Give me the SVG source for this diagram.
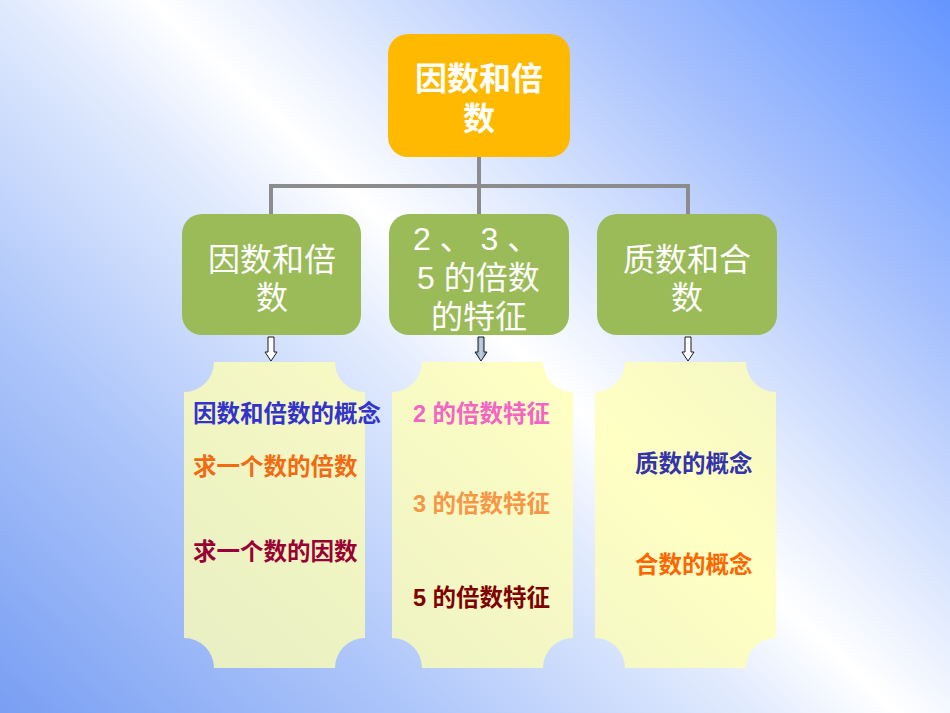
<svg xmlns="http://www.w3.org/2000/svg" width="950" height="713" viewBox="0 0 950 713">
<defs>
<linearGradient id="bg" gradientUnits="userSpaceOnUse" x1="88" y1="792" x2="893" y2="-49">
<stop offset="0" stop-color="#7A9FF3"/>
<stop offset="0.25" stop-color="#AFC7FA"/>
<stop offset="0.45" stop-color="#E3ECFE"/>
<stop offset="0.53" stop-color="#FFFFFF"/>
<stop offset="0.62" stop-color="#E2EBFE"/>
<stop offset="0.8" stop-color="#A6C0FD"/>
<stop offset="1" stop-color="#6596FF"/>
</linearGradient>
<linearGradient id="arrowFill" x1="0" y1="0" x2="1" y2="0">
<stop offset="0" stop-color="#6E86A8"/>
<stop offset="0.5" stop-color="#C4D2E6"/>
<stop offset="1" stop-color="#6E86A8"/>
</linearGradient>
</defs>
<style>
.green{fill:#9BBB59;}
.panel{fill:#FFFFB4;fill-opacity:0.78;}
.conn{stroke:#8C8C8C;stroke-width:4;fill:none;}
.arrow{fill:#FFFFFF;stroke:#1A1A1A;stroke-width:1;}
.big{font-family:"Liberation Sans","Noto Sans CJK SC",sans-serif;font-size:32px;fill:#FFFFFF;}
.small{font-family:"Liberation Sans","Noto Sans CJK SC",sans-serif;font-size:23.5px;font-weight:bold;}
</style>
<rect x="0" y="0" width="950" height="713" fill="url(#bg)"/>

<g id="connectors">
<path class="conn" d="M479 157 V186 M271 186 H688 M271 184 V214 M479 186 V214 M688 184 V214"/>
<polygon class="arrow" points="268,337 274,337 274,352 277,352 271,361 265,352 268,352"/>
<polygon class="arrow" style="fill:url(#arrowFill)" points="478,337 484,337 484,352 487,352 481,361 475,352 478,352"/>
<polygon class="arrow" points="685,337 691,337 691,352 694,352 688,361 682,352 685,352"/>
</g>

<g id="root">
<rect x="388" y="34" width="182" height="123" rx="20" fill="#FFBA00"/>
<text class="big" font-weight="bold" text-anchor="middle" x="479" y="90">因数和倍</text>
<text class="big" font-weight="bold" text-anchor="middle" x="479" y="130">数</text>
</g>

<g id="node-yinshu">
<rect class="green" x="182" y="214" width="179" height="121" rx="20"/>
<text class="big" text-anchor="middle" x="272" y="271">因数和倍</text>
<text class="big" text-anchor="middle" x="272" y="309">数</text>
</g>

<g id="node-tezheng">
<rect class="green" x="389" y="214" width="180" height="121" rx="20"/>
<text class="big" x="413" y="250">2 、 3 、</text>
<text class="big" x="417" y="289">5 的倍数</text>
<text class="big" x="431" y="328">的特征</text>
</g>

<g id="node-zhishu">
<rect class="green" x="597" y="214" width="180" height="121" rx="20"/>
<text class="big" text-anchor="middle" x="687" y="271">质数和合</text>
<text class="big" text-anchor="middle" x="687" y="309">数</text>
</g>

<g id="panel-1">
<path class="panel" d="M214 362 H335 A30 30 0 0 0 365 392 V638 A30 30 0 0 0 335 668 H214 A30 30 0 0 0 184 638 V392 A30 30 0 0 0 214 362 Z"/>
<text class="small" x="193" y="422" fill="#3333CC">因数和倍数的概念</text>
<text class="small" x="193" y="475" fill="#F26B12">求一个数的倍数</text>
<text class="small" x="193" y="560" fill="#990033">求一个数的因数</text>
</g>

<g id="panel-2">
<path class="panel" d="M422 362 H543 A30 30 0 0 0 573 392 V638 A30 30 0 0 0 543 668 H422 A30 30 0 0 0 392 638 V392 A30 30 0 0 0 422 362 Z"/>
<text class="small" x="413" y="422" fill="#F464C4">2 的倍数特征</text>
<text class="small" x="413" y="512" fill="#F79646">3 的倍数特征</text>
<text class="small" x="413" y="606" fill="#800000">5 的倍数特征</text>
</g>

<g id="panel-3">
<path class="panel" d="M625 362 H746 A30 30 0 0 0 776 392 V638 A30 30 0 0 0 746 668 H625 A30 30 0 0 0 595 638 V392 A30 30 0 0 0 625 362 Z"/>
<text class="small" x="635" y="472" fill="#3333AA">质数的概念</text>
<text class="small" x="635" y="573" fill="#FF6600">合数的概念</text>
</g>
</svg>
